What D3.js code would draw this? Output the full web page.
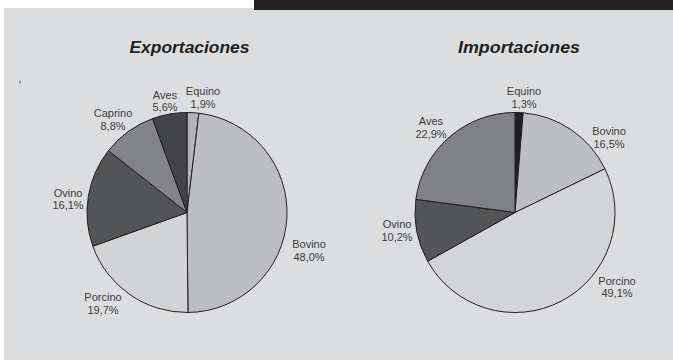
<!DOCTYPE html>
<html><head><meta charset="utf-8">
<script src="https://cdn.jsdelivr.net/npm/d3@7"></script>
<style>html,body{margin:0;padding:0;background:#fff;}svg{display:block;}</style>
</head><body>
<script>
// Data
const expCategories = ["Equino","Bovino","Porcino","Ovino","Caprino","Aves"];
const expValues = [1.9, 48.0, 19.7, 16.1, 8.8, 5.6];
const impCategories = ["Equino","Bovino","Porcino","Ovino","Aves"];
const impValues = [1.3, 16.5, 49.1, 10.2, 22.9];
const titles = ["Exportaciones","Importaciones"];

const W = 673, H = 361;
const svg = d3.select("body").append("svg").attr("width", W).attr("height", H);
svg.append("rect").attr("x",4).attr("y",8).attr("width",W-4).attr("height",352).attr("fill","#dcdddf");
svg.append("rect").attr("x",254).attr("y",0).attr("width",W-254).attr("height",10).attr("fill","#231f20");
svg.append("rect").attr("x",19.5).attr("y",80.5).attr("width",1).attr("height",3).attr("fill","#555");

const colorMap = {
  exp: {Equino:"#b2b3b6",Bovino:"#bcbdc0",Porcino:"#d2d3d5",Ovino:"#535456",Caprino:"#838487",Aves:"#434446"},
  imp: {Equino:"#231f20",Bovino:"#bdbec1",Porcino:"#d3d4d6",Ovino:"#545557",Aves:"#808184"}
};
// label anchor positions (centre x, first-line baseline y)
const labelPos = {
  exp: {Equino:[203,95],Bovino:[309,248],Porcino:[103,301],Ovino:[68,196.5],Caprino:[113,117],Aves:[165,98.5]},
  imp: {Equino:[524,95],Bovino:[609,135],Porcino:[617,284.5],Ovino:[397,228],Aves:[431,125]}
};

function fmt(v){ return v.toFixed(1).replace(".", ",") + "%"; }

function drawPie(cats, vals, cx, cy, r, key, title, titleX, titleW){
  const data = cats.map((c,i)=>({cat:c, value:vals[i]}));
  const pie = d3.pie().sort(null).value(d=>d.value);
  const arc = d3.arc().innerRadius(0).outerRadius(r);
  const g = svg.append("g").attr("transform",`translate(${cx},${cy})`);
  g.selectAll("path").data(pie(data)).join("path")
    .attr("d", arc)
    .attr("fill", d=>colorMap[key][d.data.cat])
    .attr("stroke","#231f20").attr("stroke-width",1).attr("stroke-linejoin","round");
  const lg = svg.append("g");
  data.forEach(d=>{
    const p = labelPos[key][d.cat];
    const t = lg.append("text").attr("x",p[0]).attr("y",p[1])
      .attr("text-anchor","middle").attr("font-family","'Liberation Sans', Arial, sans-serif")
      .attr("font-size",11).attr("fill","#3c3c3e");
    t.append("tspan").attr("x",p[0]).text(d.cat);
    t.append("tspan").attr("x",p[0]).attr("dy",12.5).text(fmt(d.value));
  });
  svg.append("text").attr("x",titleX).attr("y",52.7).attr("text-anchor","middle")
    .attr("font-family","'Liberation Sans', Arial, sans-serif").attr("font-weight","bold")
    .attr("font-style","italic").attr("font-size",17).attr("fill","#231f20")
    .attr("textLength",titleW).attr("lengthAdjust","spacingAndGlyphs")
    .text(title);
}

drawPie(expCategories, expValues, 187, 212.5, 100, "exp", titles[0], 189.5, 120);
drawPie(impCategories, impValues, 515, 212.5, 100, "imp", titles[1], 519, 122);
</script>
</body></html>
